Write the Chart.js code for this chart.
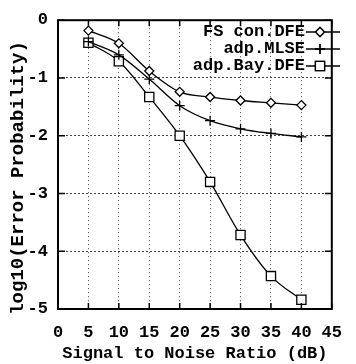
<!DOCTYPE html>
<html>
<head>
<meta charset="utf-8">
<script src="https://cdn.jsdelivr.net/npm/chart.js@4/dist/chart.umd.min.js"></script>
<style>
  html, body { margin: 0; padding: 0; background: #fff; }
</style>
</head>
<body>
<canvas id="snrChart" width="356" height="364"></canvas>
<script>
// SNR (dB) on the x axis, log10 of error probability on the y axis
const snr = [5, 10, 15, 20, 25, 30, 35, 40];
const fsConDfe = [-0.18, -0.40, -0.88, -1.24, -1.33, -1.39, -1.43, -1.47];
const adpMlse = [-0.37, -0.60, -1.02, -1.48, -1.74, -1.88, -1.96, -2.02];
const adpBayDfe = [-0.39, -0.71, -1.33, -2.00, -2.80, -3.72, -4.43, -4.84];
const seriesNames = ['FS con.DFE', 'adp.MLSE', 'adp.Bay.DFE'];
const markerStyles = ['rectRot', 'cross', 'rect'];
const markerSizes = [4.5, 5, 6.5];
const xTicks = [0, 5, 10, 15, 20, 25, 30, 35, 40, 45];
const yTicks = [0, -1, -2, -3, -4, -5];

const monoFont = '"Liberation Mono", "DejaVu Sans Mono", monospace';

const toPoints = values => snr.map((x, i) => ({ x: x, y: values[i] }));

// box, inward tick marks, y title and the in-plot legend
const framePlugin = {
  id: 'frame',
  afterDraw(chart) {
    const { ctx, chartArea: a, scales: { x, y } } = chart;
    ctx.save();
    ctx.strokeStyle = '#000';
    ctx.lineWidth = 2;
    ctx.strokeRect(a.left, a.top, a.right - a.left, a.bottom - a.top);

    ctx.lineWidth = 1.5;
    ctx.beginPath();
    xTicks.forEach(v => {
      const px = x.getPixelForValue(v);
      ctx.moveTo(px, a.bottom); ctx.lineTo(px, a.bottom - 6);
      ctx.moveTo(px, a.top); ctx.lineTo(px, a.top + 6);
    });
    yTicks.forEach(v => {
      const py = y.getPixelForValue(v);
      ctx.moveTo(a.left, py); ctx.lineTo(a.left + 7, py);
      ctx.moveTo(a.right, py); ctx.lineTo(a.right - 7, py);
    });
    ctx.stroke();

    // y axis title
    ctx.save();
    ctx.translate(18, 178);
    ctx.rotate(-Math.PI / 2);
    ctx.font = 'bold 19px ' + monoFont;
    ctx.fillStyle = '#000';
    ctx.textAlign = 'center';
    ctx.textBaseline = 'middle';
    ctx.fillText('log10(Error Probability)', 0, 0);
    ctx.restore();

    // legend
    ctx.font = 'bold 17px ' + monoFont;
    ctx.fillStyle = '#000';
    ctx.textAlign = 'right';
    ctx.textBaseline = 'middle';
    seriesNames.forEach((name, i) => {
      const ly = 32 + i * 17;
      ctx.fillText(name, 305, ly);
      ctx.lineWidth = 1.3;
      ctx.strokeStyle = '#000';
      ctx.beginPath();
      ctx.moveTo(306, ly); ctx.lineTo(340, ly);
      ctx.stroke();
      ctx.fillStyle = '#fff';
      Chart.helpers.drawPoint(ctx, {
        pointStyle: markerStyles[i],
        radius: markerSizes[i],
        borderWidth: 1.3
      }, 320, ly);
      ctx.fill();
      ctx.stroke();
      ctx.fillStyle = '#000';
    });
    ctx.restore();
  }
};

const makeSet = (label, values, i) => ({
  label: label,
  data: toPoints(values),
  borderColor: '#000',
  borderWidth: 1.3,
  backgroundColor: '#fff',
  pointStyle: markerStyles[i],
  pointRadius: markerSizes[i],
  pointBorderWidth: 1.3,
  pointBackgroundColor: '#fff',
  pointBorderColor: '#000',
  cubicInterpolationMode: 'monotone',
  fill: false
});

new Chart(document.getElementById('snrChart').getContext('2d'), {
  type: 'line',
  data: {
    datasets: [
      makeSet(seriesNames[0], fsConDfe, 0),
      makeSet(seriesNames[1], adpMlse, 1),
      makeSet(seriesNames[2], adpBayDfe, 2)
    ]
  },
  options: {
    responsive: false,
    animation: false,
    devicePixelRatio: 1,
    layout: { padding: { top: 11, right: 11, left: 0, bottom: 0 } },
    plugins: {
      legend: { display: false },
      tooltip: { enabled: false }
    },
    scales: {
      x: {
        type: 'linear',
        min: 0,
        max: 45,
        afterBuildTicks: scale => { scale.ticks = xTicks.map(v => ({ value: v })); },
        afterFit: scale => { scale.height = 55; },
        ticks: {
          color: '#000',
          padding: 14,
          maxRotation: 0,
          font: { family: monoFont, size: 17, weight: 'bold' }
        },
        grid: { color: '#444', lineWidth: 1, drawTicks: false },
        border: { display: false, dash: [1, 3] },
        title: {
          display: true,
          text: 'Signal to Noise Ratio (dB)',
          color: '#000',
          padding: { top: 0, bottom: 0 },
          font: { family: monoFont, size: 17, weight: 'bold' }
        }
      },
      y: {
        type: 'linear',
        min: -5,
        max: 0,
        afterBuildTicks: scale => { scale.ticks = yTicks.map(v => ({ value: v })); },
        afterFit: scale => { scale.width = 58; },
        ticks: {
          color: '#000',
          padding: 10,
          font: { family: monoFont, size: 17, weight: 'bold' }
        },
        grid: { color: '#444', lineWidth: 1, drawTicks: false },
        border: { display: false, dash: [2, 2] }
      }
    }
  },
  plugins: [framePlugin]
});
</script>
</body>
</html>
